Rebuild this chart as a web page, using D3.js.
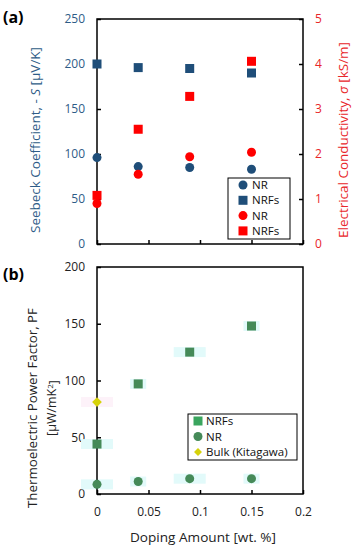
<!DOCTYPE html>
<html lang="en">
<head>
  <meta charset="UTF-8">
  <title>Seebeck / conductivity / power factor</title>
  <script src="https://d3js.org/d3.v7.min.js"></script>
  <style>
    body { margin: 0; background: #fff; }
    svg { display: block; font-family: "Open Sans", sans-serif; }
  </style>
</head>
<body>
  <svg id="chart" width="356" height="550"></svg>

  <script>
    // doping amounts [wt. %]
    const doping = [0, 0.04, 0.09, 0.15];

    // panel (a)
    const seebeckNR = [96, 86, 85, 83];
    const seebeckNRFs = [200, 196, 195, 190];
    const sigmaNR = [0.90, 1.55, 1.94, 2.04];
    const sigmaNRFs = [1.08, 2.55, 3.28, 4.06];

    // panel (b)
    const pfNRFs = [44, 97, 125, 148];
    const pfNR = [8.5, 11, 13.5, 13.5];
    const pfBulk = [{ x: 0, y: 81 }];

    const xTicks = [0, 0.05, 0.1, 0.15, 0.2];
    const seebeckTicks = [0, 50, 100, 150, 200, 250];
    const sigmaTicks = [0, 1, 2, 3, 4, 5];
    const pfTicks = [0, 50, 100, 150, 200];

    const blue = "#1f4e79", blueText = "#2e5c87";
    const red = "#ff0000", redText = "#e8262a";
    const green = "#458a58", yellow = "#d6d20a";

    const svg = d3.select("#chart");

    const x = d3.scaleLinear().domain([0, 0.2]).range([97, 303]);

    // ---------- panel (a) ----------
    const yA = d3.scaleLinear().domain([0, 250]).range([244, 19]);
    const yA2 = d3.scaleLinear().domain([0, 5]).range([244, 19]);

    const gA = svg.append("g");

    gA.append("g")
      .attr("transform", "translate(97,0)")
      .call(d3.axisLeft(yA).tickValues(seebeckTicks).tickSizeInner(-4).tickSizeOuter(0).tickPadding(12))
      .call(g => g.select(".domain").remove())
      .call(g => g.selectAll("text").attr("fill", blueText).style("font-size", "12px").style("font-family", "Open Sans"));

    gA.append("g")
      .attr("transform", "translate(303,0)")
      .call(d3.axisRight(yA2).tickValues(sigmaTicks).tickFormat(d3.format("d"))
        .tickSizeInner(-4).tickSizeOuter(0).tickPadding(12))
      .call(g => g.select(".domain").remove())
      .call(g => g.selectAll("text").attr("fill", redText).style("font-size", "12px").style("font-family", "Open Sans"));

    gA.append("g")
      .attr("transform", "translate(0,244)")
      .call(d3.axisBottom(x).tickValues(xTicks).tickSizeInner(-4).tickSizeOuter(0).tickFormat(""))
      .call(g => g.select(".domain").remove());

    gA.append("rect")
      .attr("x", 97).attr("y", 19).attr("width", 206).attr("height", 225)
      .attr("fill", "none").attr("stroke", "#000").attr("stroke-width", 1.5);

    function circles(g, xs, ys, yScale, color, r) {
      g.append("g").selectAll("circle")
        .data(xs.map((d, i) => ({ x: d, y: ys[i] })))
        .join("circle")
        .attr("cx", d => x(d.x)).attr("cy", d => yScale(d.y))
        .attr("r", r).attr("fill", color);
    }
    function squares(g, xs, ys, yScale, color, s) {
      g.append("g").selectAll("rect")
        .data(xs.map((d, i) => ({ x: d, y: ys[i] })))
        .join("rect")
        .attr("x", d => x(d.x) - s / 2).attr("y", d => yScale(d.y) - s / 2)
        .attr("width", s).attr("height", s).attr("fill", color);
    }

    circles(gA, doping, seebeckNR, yA, blue, 4.5);
    squares(gA, doping, seebeckNRFs, yA, blue, 9);
    circles(gA, doping, sigmaNR, yA2, red, 4.5);
    squares(gA, doping, sigmaNRFs, yA2, red, 9);

    // legend (a)
    const legA = gA.append("g");
    legA.append("rect").attr("x", 228).attr("y", 178).attr("width", 62).attr("height", 61)
      .attr("fill", "#fff").attr("stroke", "#000").attr("stroke-width", 1);
    const legAItems = [
      { t: "NR", c: blue, s: "c" }, { t: "NRFs", c: blue, s: "s" },
      { t: "NR", c: red, s: "c" }, { t: "NRFs", c: red, s: "s" }
    ];
    legAItems.forEach((d, i) => {
      const yy = 185 + i * 15.3;
      if (d.s === "c") legA.append("circle").attr("cx", 243).attr("cy", yy).attr("r", 4.5).attr("fill", d.c);
      else legA.append("rect").attr("x", 238.5).attr("y", yy - 4.5).attr("width", 9).attr("height", 9).attr("fill", d.c);
      legA.append("text").attr("x", 252).attr("y", yy).attr("dy", "0.36em")
        .style("font-size", "11.5px").attr("fill", "#111").text(d.t);
    });

    // axis titles (a)
    svg.append("text")
      .attr("transform", "translate(40,140) rotate(-90)")
      .attr("text-anchor", "middle").attr("fill", blueText).style("font-size", "12.5px")
      .attr("textLength", 186).attr("lengthAdjust", "spacingAndGlyphs")
      .call(t => {
        t.append("tspan").text("Seebeck Coefficient, - ");
        t.append("tspan").style("font-style", "italic").text("S");
        t.append("tspan").text(" [μV/K]");
      });
    svg.append("text")
      .attr("transform", "translate(348,140) rotate(-90)")
      .attr("text-anchor", "middle").attr("fill", redText).style("font-size", "12.5px")
      .attr("textLength", 196).attr("lengthAdjust", "spacingAndGlyphs")
      .call(t => {
        t.append("tspan").text("Electrical Conductivity, ");
        t.append("tspan").style("font-style", "italic").text("σ");
        t.append("tspan").text(" [kS/m]");
      });

    svg.append("text").attr("x", 3).attr("y", 23)
      .style("font-size", "16px").style("font-weight", "bold").text("(a)");

    // ---------- panel (b) ----------
    const yB = d3.scaleLinear().domain([0, 200]).range([494, 267]);
    const gB = svg.append("g");

    gB.append("g")
      .attr("transform", "translate(97,0)")
      .call(d3.axisLeft(yB).tickValues(pfTicks).tickSizeInner(-4).tickSizeOuter(0).tickPadding(12))
      .call(g => g.select(".domain").remove())
      .call(g => g.selectAll("text").attr("fill", "#222").style("font-size", "12px").style("font-family", "Open Sans"));

    gB.append("g")
      .attr("transform", "translate(0,494)")
      .call(d3.axisBottom(x).tickValues(xTicks).tickSizeInner(-4).tickSizeOuter(0).tickPadding(13)
        .tickFormat(d => d === 0 ? "0" : d3.format("")(d)))
      .call(g => g.select(".domain").remove())
      .call(g => g.selectAll("text").attr("fill", "#222").style("font-size", "12px").style("font-family", "Open Sans"));

    // faint error bands behind the markers
    const bandData = doping.map((d, i) => ({ x: d, y: pfNRFs[i], i }))
      .concat(doping.map((d, i) => ({ x: d, y: pfNR[i], i })));
    gB.append("g").selectAll("rect")
      .data(bandData)
      .join("rect")
      .attr("x", d => x(d.x) - (d.i % 2 ? 8 : 16))
      .attr("y", d => yB(d.y) - 5)
      .attr("width", d => d.i % 2 ? 16 : 32)
      .attr("height", 10)
      .attr("fill", "#e2fafa");
    gB.append("g").selectAll("rect")
      .data(pfBulk)
      .join("rect")
      .attr("x", d => x(d.x) - 16).attr("y", d => yB(d.y) - 5)
      .attr("width", 32).attr("height", 10)
      .attr("fill", "#fdf2f9");

    gB.append("rect")
      .attr("x", 97).attr("y", 267).attr("width", 206).attr("height", 227)
      .attr("fill", "none").attr("stroke", "#000").attr("stroke-width", 1.5);

    squares(gB, doping, pfNRFs, yB, green, 9);
    circles(gB, doping, pfNR, yB, green, 4.5);
    gB.append("g").selectAll("path")
      .data(pfBulk)
      .join("path")
      .attr("d", d3.symbol(d3.symbolDiamond2, 60))
      .attr("transform", d => `translate(${x(d.x)},${yB(d.y)})`)
      .attr("fill", yellow);

    // legend (b)
    const legB = gB.append("g");
    legB.append("rect").attr("x", 188).attr("y", 414).attr("width", 109).attr("height", 46)
      .attr("fill", "#fff").attr("stroke", "#000").attr("stroke-width", 1);
    const legBItems = [
      { t: "NRFs", c: "#3aa55e", s: "s" },
      { t: "NR", c: green, s: "c" },
      { t: "Bulk (Kitagawa)", c: yellow, s: "d" }
    ];
    legBItems.forEach((d, i) => {
      const yy = 421 + i * 15.5;
      if (d.s === "c") legB.append("circle").attr("cx", 198).attr("cy", yy).attr("r", 4.5).attr("fill", d.c);
      else if (d.s === "s") legB.append("rect").attr("x", 193.5).attr("y", yy - 4.5).attr("width", 9).attr("height", 9).attr("fill", d.c);
      else legB.append("path").attr("d", d3.symbol(d3.symbolDiamond2, 40))
        .attr("transform", `translate(198,${yy})`).attr("fill", d.c);
      legB.append("text").attr("x", 206).attr("y", yy).attr("dy", "0.36em")
        .style("font-size", "11.5px").attr("fill", "#111").text(d.t);
    });

    // axis titles (b)
    svg.append("text")
      .attr("transform", "translate(33,408) rotate(-90)")
      .attr("text-anchor", "middle").attr("dy", "0.35em").attr("fill", "#222").style("font-size", "12.5px")
      .attr("textLength", 200).attr("lengthAdjust", "spacingAndGlyphs")
      .text("Thermoelectric Power Factor, PF");
    svg.append("text")
      .attr("transform", "translate(52,408) rotate(-90)")
      .attr("text-anchor", "middle").attr("dy", "0.35em").attr("fill", "#222").style("font-size", "12.5px")
      .call(t => {
        t.append("tspan").text("[μW/mK");
        t.append("tspan").attr("dy", "-0.4em").style("font-size", "8px").text("2");
        t.append("tspan").attr("dy", "0.4em").text("]");
      });

    svg.append("text").attr("x", 203).attr("y", 542)
      .attr("text-anchor", "middle").attr("fill", "#222").style("font-size", "12.5px")
      .attr("textLength", 146).attr("lengthAdjust", "spacingAndGlyphs")
      .text("Doping Amount [wt. %]");

    svg.append("text").attr("x", 3).attr("y", 280)
      .style("font-size", "16px").style("font-weight", "bold").text("(b)");

    svg.selectAll(".tick line").attr("stroke", "#000").attr("stroke-width", 1.5);
  </script>
</body>
</html>
